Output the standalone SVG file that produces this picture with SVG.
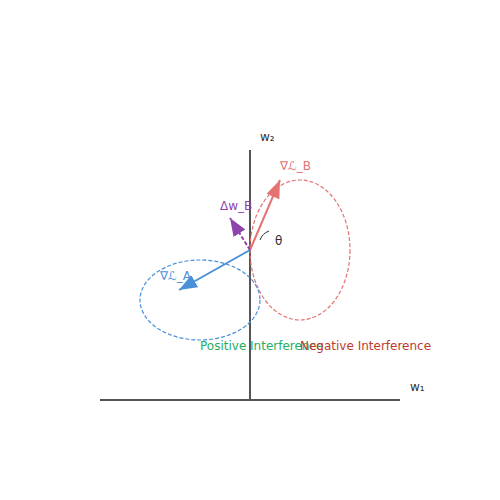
<svg xmlns="http://www.w3.org/2000/svg" width="500" height="500" viewBox="0 0 500 500">
<style>
text{font-family:"DejaVu Sans",sans-serif;font-size:12px}
.axis{stroke:#555;stroke-width:2;fill:none}
.ell{fill:none;stroke-width:1.2;stroke-dasharray:4,2}
</style>
<defs>
<marker id="hr" markerUnits="userSpaceOnUse" markerWidth="20" markerHeight="14" refX="18" refY="7" orient="auto"><path d="M0,0 L18,7 L0,14 Z" fill="#e57373"/></marker>
<marker id="hb" markerUnits="userSpaceOnUse" markerWidth="20" markerHeight="14" refX="18" refY="7" orient="auto"><path d="M0,0 L18,7 L0,14 Z" fill="#4a90d9"/></marker>
<marker id="hp" markerUnits="userSpaceOnUse" markerWidth="20" markerHeight="14" refX="18" refY="7" orient="auto"><path d="M0,0 L18,7 L0,14 Z" fill="#8e44ad"/></marker>
</defs>
<rect width="500" height="500" fill="#fff"/>
<g id="axes">
<line class="axis" x1="100" y1="400" x2="400" y2="400"/>
<line class="axis" x1="250" y1="400" x2="250" y2="150"/>
<text x="410" y="391" fill="#333">w₁</text>
<text x="260" y="141" fill="#333">w₂</text>
</g>
<g id="regionA"><ellipse class="ell" cx="200" cy="300" rx="60" ry="40" stroke="#4a90d9"/></g>
<g id="regionB"><ellipse class="ell" cx="300" cy="250" rx="50" ry="70" stroke="#e57373"/></g>
<g id="connectors">
<line x1="250" y1="250" x2="280" y2="180" stroke="#e57373" stroke-width="2" marker-end="url(#hr)"/>
<line x1="250" y1="250" x2="179" y2="290" stroke="#4a90d9" stroke-width="2" marker-end="url(#hb)"/>
<line x1="250" y1="250" x2="230" y2="218" stroke="#8e44ad" stroke-width="2" stroke-dasharray="4,2" marker-end="url(#hp)"/>
<path d="M260,240 A15,15 0 0 1 269,231" fill="none" stroke="#333" stroke-width="1"/>
</g>
<g id="labels">
<text x="280" y="170" fill="#e57373">∇ℒ_B</text>
<text x="220" y="210" fill="#8e44ad">Δw_B</text>
<text x="160" y="280" fill="#4a90d9">∇ℒ_A</text>
<text x="275" y="245" fill="#333">θ</text>
<text x="200" y="350" fill="#27ae60">Positive Interference</text>
<text x="300" y="350" fill="#c0392b">Negative Interference</text>
</g>
</svg>
